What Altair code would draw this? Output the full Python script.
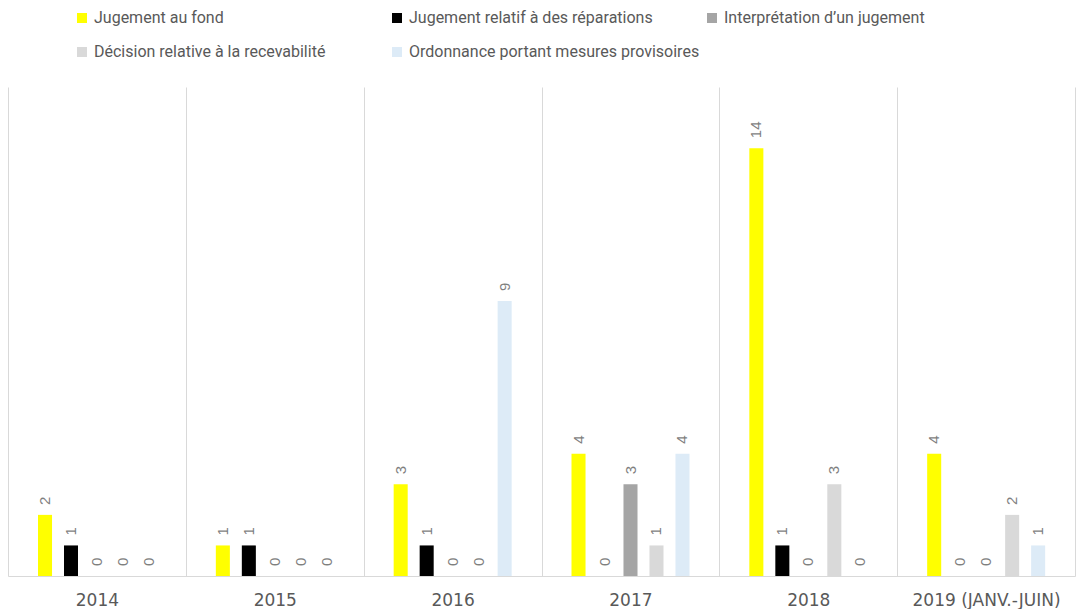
import altair as alt
import pandas as pd

years = ["2014", "2015", "2016", "2017", "2018", "2019 (JANV.-JUIN)"]
series = [
    "Jugement au fond",
    "Jugement relatif à des réparations",
    "Interprétation d’un jugement",
    "Décision relative à la recevabilité",
    "Ordonnance portant mesures provisoires",
]
colors = ["#FFFF00", "#000000", "#A5A5A5", "#D9D9D9", "#DDEBF7"]

jugement_fond = [2, 1, 3, 4, 14, 4]
reparations = [1, 1, 1, 0, 1, 0]
interpretation = [0, 0, 0, 3, 0, 0]
recevabilite = [0, 0, 0, 1, 3, 2]
mesures_provisoires = [0, 0, 9, 4, 0, 1]

values_by_series = [jugement_fond, reparations, interpretation, recevabilite, mesures_provisoires]

rows = []
for s, vals in zip(series, values_by_series):
    for y, v in zip(years, vals):
        rows.append({"year": y, "series": s, "value": v})
df = pd.DataFrame(rows)

W, H = 1067, 489

# legend layout (pixels relative to plot origin)
LEG_X0, LEG_DX = 74, 315
LEG_Y0, LEG_DY = -69, 34
legend_df = pd.DataFrame({
    "series": series,
    "lx": [LEG_X0 + LEG_DX * (i % 3) for i in range(len(series))],
    "ly": [LEG_Y0 + LEG_DY * (i // 3) for i in range(len(series))],
})

color_scale = alt.Scale(domain=series, range=colors)
x_scale = alt.Scale(paddingInner=0, paddingOuter=0)
xo_scale = alt.Scale(range=[30, 148], paddingInner=0.46, paddingOuter=0)
y_scale = alt.Scale(domain=[0, 16], nice=False)

bars = alt.Chart(df).mark_bar().encode(
    x=alt.X("year:N", sort=years, scale=x_scale,
            axis=alt.Axis(title=None, labelAngle=0, ticks=False, grid=True,
                          tickBand="extent", gridColor="#D9D9D9", gridWidth=1,
                          domainColor="#D9D9D9", domainWidth=1,
                          labelColor="#595959", labelFont="DejaVu Sans",
                          labelFontSize=17, labelPadding=16)),
    xOffset=alt.XOffset("series:N", sort=series, scale=xo_scale),
    y=alt.Y("value:Q", scale=y_scale, axis=None),
    color=alt.Color("series:N", scale=color_scale, legend=None),
)

labels = alt.Chart(df).mark_text(
    angle=270, align="left", baseline="middle", dx=10,
    font="Liberation Sans", fontSize=15, color="#7F7F7F",
).encode(
    x=alt.X("year:N", sort=years, scale=x_scale, axis=None),
    xOffset=alt.XOffset("series:N", sort=series, scale=xo_scale),
    y=alt.Y("value:Q", scale=y_scale, axis=None),
    text=alt.Text("value:Q"),
)

leg_sq = alt.Chart(legend_df).mark_square(size=100, opacity=1).encode(
    x=alt.X("lx:Q", scale=None, axis=None),
    y=alt.Y("ly:Q", scale=None, axis=None),
    color=alt.Color("series:N", scale=color_scale, legend=None),
)

leg_txt = alt.Chart(legend_df).mark_text(
    align="left", baseline="middle", dx=12,
    font="Roboto", fontSize=16, color="#595959",
).encode(
    x=alt.X("lx:Q", scale=None, axis=None),
    y=alt.Y("ly:Q", scale=None, axis=None),
    text="series:N",
)

chart = alt.layer(bars, labels, leg_sq, leg_txt).resolve_scale(
    x="independent", y="independent"
).properties(
    width=W, height=H,
    autosize=alt.AutoSizeParams(type="none"),
    padding={"left": 8, "top": 87, "right": 1, "bottom": 33},
    background="white",
).configure_view(stroke=None)

chart.save("out.html", embed_options={"renderer": "svg", "actions": False})
